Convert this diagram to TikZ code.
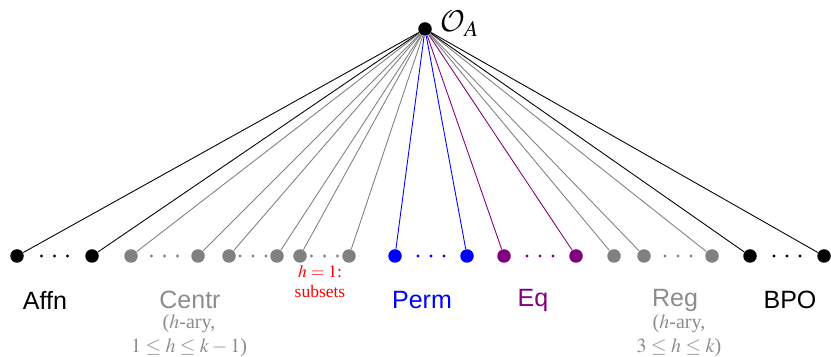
\documentclass[tikz,border=0pt]{standalone}
\usepackage{amsmath,amssymb}
\usepackage{mathptmx}
\DeclareMathAlphabet{\mathcal}{OMS}{cmsy}{m}{n}
\usepackage{fontspec}
\setmainfont{Liberation Serif}
\setsansfont{Liberation Sans}
\usetikzlibrary{calc,positioning}
\definecolor{eqpurple}{RGB}{128,0,128}
\definecolor{leafgray}{RGB}{128,128,128}
\definecolor{labelgray}{RGB}{140,140,140}

\begin{document}
\begin{tikzpicture}[x=0.4pt, y=-0.4pt,
    vertex/.style={circle, fill=black, inner sep=0pt, minimum size=5.4pt},
    leaf/.style={vertex, fill=#1},
    spoke/.style={draw=#1, line width=0.35pt},
    family/.style={font=\sffamily, text=#1, inner sep=0pt},
    note/.style={font=\footnotesize, text=#1, align=center, inner sep=0pt}
]
    \useasboundingbox (0,0) rectangle (831,357);
    \node[vertex] (top) at (425,29) {};
    \node[anchor=base west, inner sep=0pt, font=\large] (toplabel) at (440,32) {$\mathcal{O}_A$};
    \foreach \n/\x/\c in {a1/17/black, a2/92/black,
                          c1/131/leafgray, c2/198/leafgray, c3/229/leafgray,
                          c4/277/leafgray, c5/300/leafgray, c6/349/leafgray,
                          p1/395/blue, p2/467/blue, e1/504/eqpurple, e2/576/eqpurple,
                          r1/614/leafgray, r2/644/leafgray, r3/712/leafgray,
                          b1/750/black, b2/824/black} {
        \node[leaf=\c] (\n) at (\x,256) {};
        \draw[spoke=\c] (top) -- (\n);
    }
    \foreach \l/\r/\c in {a1/a2/black, c1/c2/leafgray, c3/c4/leafgray, c5/c6/leafgray,
                          p1/p2/blue, e1/e2/eqpurple, r2/r3/leafgray, b1/b2/black}
        \foreach \d in {-13,0,13}
            \fill[\c] ($(\l)!.5!(\r)$) ++(\d,0) circle[radius=0.65pt];
    \node[family=black] (affn) at (45,300) {Affn};
    \node[family=labelgray] (centr) at (190,300) {Centr};
    \node[note=labelgray] (centrnote) at (189,336) {($h$-ary,\\ $1\le h\le k-1$)};
    \node[note=red, font=\scriptsize] (subsets) at (320,282) {$h=1$:\\ subsets};
    \node[family=blue] (perm) at (422,300) {Perm};
    \node[family=eqpurple] (eq) at (533,300) {Eq};
    \node[family=labelgray] (reg) at (675,300) {Reg};
    \node[note=labelgray] (regnote) at (679,336) {($h$-ary,\\ $3\le h\le k$)};
    \node[family=black] (bpo) at (790,300) {BPO};
\end{tikzpicture}
\end{document}
